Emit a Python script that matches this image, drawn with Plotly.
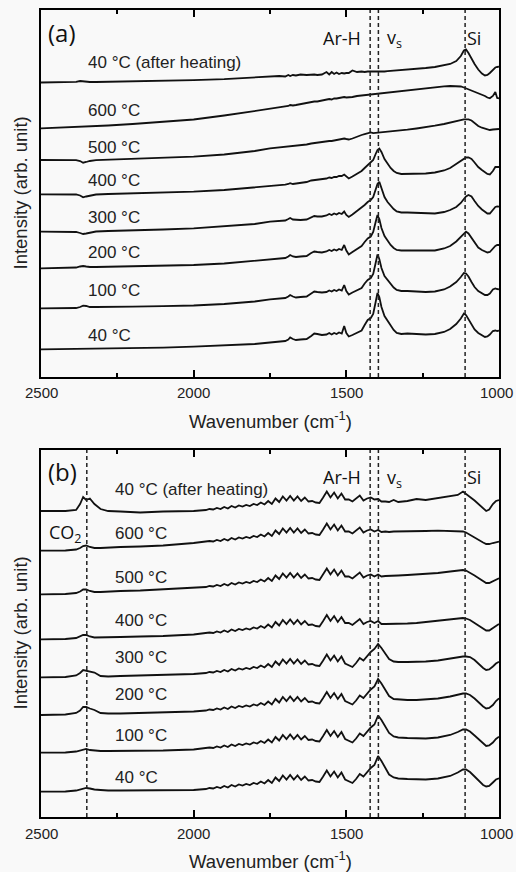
import plotly.graph_objects as go

# ---------------- Panel (a) data ----------------
wn_a = [2500, 2420, 2385, 2372, 2362, 2352, 2340, 2320, 2280, 2200, 2100, 2000, 1900, 1800, 1750,
        1720, 1700, 1690, 1684, 1675, 1665, 1650, 1630, 1615, 1605,
        1595, 1580, 1565, 1556, 1548, 1540, 1532, 1524, 1515, 1507,
        1500, 1492, 1480, 1465, 1450, 1440, 1430, 1420, 1412, 1404,
        1398, 1392, 1385, 1375, 1365, 1355, 1345, 1335, 1320, 1300,
        1270, 1240, 1210, 1180, 1160, 1140, 1125, 1115, 1108, 1100,
        1090, 1080, 1068, 1056, 1046, 1038, 1030, 1020, 1012, 1006,
        1000]

a_40 = [27.7, 28, 28, 28, 28, 28, 28, 28, 28.2, 28.7, 29.4, 30.3, 31.5, 33, 34.5,
        35.5, 36, 37.5, 39.5, 38, 37, 37.5, 38, 41, 43.5,
        43, 42, 42.5, 44, 42.5, 44, 43, 44.5, 43.5, 51,
        44, 40.5, 42, 44, 46.5, 52, 57, 59, 63, 75,
        84, 80, 70, 61, 56, 51, 47, 44, 43, 43.5,
        43, 42.5, 43, 45, 48, 53, 58.5, 63.5, 62, 58,
        52, 47.5, 44, 41.5, 40, 40.5, 42.5, 46, 46.5, 46,
        46.3]
a_100 = [68.7, 68.8, 69, 70, 71.3, 71, 70, 70, 70, 70.3, 70.8, 71.5, 73, 75.5, 77.7,
         78.5, 79, 80.5, 82, 80.5, 79.5, 80, 80.5, 83.5, 85.5,
         85, 84.5, 85, 86.5, 85.5, 87, 86, 87.5, 86.5, 92,
         86, 82.5, 84.5, 86.5, 89, 93.5, 97, 99, 103, 114,
         122.5, 118, 109, 101, 97, 93, 89.5, 87, 86, 86,
         85.5, 85, 85.5, 87.5, 90.5, 95, 100, 104, 103.5, 100.5,
         95, 90, 86, 83.5, 82, 82, 83.5, 87.5, 88.5, 88,
         87.7]
a_200 = [108.7, 109, 109.5, 110.5, 111, 110.5, 110, 110, 110.3, 110.7, 111.2, 112, 113.5, 116, 117.7,
         118.5, 119, 120.5, 122, 120.5, 120, 120.5, 121, 124, 125.5,
         125, 124.5, 125.5, 127, 126, 127.5, 126.5, 128, 127, 132,
         126.5, 122.5, 125, 128, 131, 135, 138.5, 140.5, 145, 155,
         162, 158, 149, 141, 136, 132, 129, 127, 126.5, 126.5,
         126.5, 126, 126.5, 128.5, 131, 135.5, 140, 144, 145.3, 143.5,
         139, 134, 129.5, 127, 125.5, 124.5, 125, 129, 131, 132,
         132]
a_300 = [145.3, 145.3, 145, 144, 143, 143.5, 144.5, 145.5, 146, 146.5, 147.5, 148.7, 150.5, 153, 155.3,
         156, 156.5, 158, 159, 157.5, 157, 157, 157.5, 160, 161,
         160.5, 160.5, 161.5, 163, 162, 163.5, 162.5, 164, 163, 165.5,
         162, 160, 162.5, 166, 169, 172, 175, 177, 180, 188,
         193, 195.3, 188, 180, 175, 171, 168, 165.5, 164.5, 164.5,
         164, 163.5, 163.5, 165, 167, 170, 174, 178, 180.5, 182,
         180.5, 176, 171, 167.5, 165, 163.5, 163.5, 167, 170, 170.5,
         170.3]
a_400 = [182.7, 182.7, 182.5, 181.5, 179.7, 180.5, 181.5, 182.5, 183, 183.5, 184.3, 185.3, 187, 189.3, 191,
         191.8, 192.3, 193, 193.8, 193, 193.3, 194, 195, 196.5, 197,
         197, 197.5, 198.5, 199.5, 199, 200, 200, 201, 201, 202.5,
         201, 198.5, 200.5, 203.5, 206, 209, 212, 214, 217, 223,
         227, 228.5, 225, 218, 213, 209, 206, 204, 203, 203,
         203, 203.5, 204.5, 206.5, 209, 213, 216, 218.5, 219.5, 219.7,
         218, 214.5, 210, 207, 205, 203, 202.5, 206, 210, 210,
         210]
a_500 = [217, 217, 216.8, 216, 214.3, 215, 216, 216.8, 217.3, 218, 219, 220.3, 222.5, 226, 228.7,
         229.5, 230, 230.5, 231, 230.8, 231, 231.7, 232.5, 233.5, 234,
         234, 234.5, 235.5, 236, 236, 236.5, 237, 237.5, 237.5, 238.5,
         238, 237.5, 238.5, 240.5, 242, 242.8, 243.5, 244.5, 243.8, 244,
         244.3, 244.3, 244.5, 245, 245.3, 245.7, 246, 246.3, 246.7, 247.3,
         248.5, 249.7, 251.3, 253, 254.5, 256.5, 257.3, 257.7, 257.7, 257.7,
         256.5, 254, 251, 249.3, 248.5, 248, 247, 247.5, 248, 248,
         248]
a_600 = [248.7, 249.5, 250, 250, 250.2, 250.3, 250.5, 250.8, 251.5, 253, 255, 257.5, 261.5, 266, 268.7,
         269.8, 270.5, 271, 272, 271.5, 272, 273, 274, 275, 275.5,
         275.5, 276.3, 277, 278, 277.5, 278.5, 278.5, 279, 279, 280,
         279.5, 279.5, 280, 281, 281.5, 282, 282.5, 283, 283.2, 283.5,
         283.8, 284, 284.3, 284.7, 285, 285.3, 285.6, 285.9, 286.3, 287,
         288, 289, 290, 290.7, 291, 291, 290.5, 289.5, 288.7, 287.8,
         286.5, 285.5, 284, 282.5, 281, 279.5, 278.7, 281, 285, 279,
         278.7]
a_after = [294.5, 294.7, 295.2, 296, 295.5, 295, 295, 295, 295.2, 295.5, 296, 296.8, 297.8, 299.2, 300,
           301, 300.5, 302, 301, 302, 301.5, 302.5, 302, 302.5, 302.5,
           302, 302.5, 305, 302.5, 305, 303, 304.5, 303, 304, 303.5,
           304, 304, 306.5, 305, 305.5, 305, 305.5, 305.5, 305, 305,
           305.5, 305, 305.2, 305.5, 305.8, 306, 306.2, 306.5, 306.8, 307.3,
           308, 309, 310, 311.5, 313, 316, 321, 326.5, 327.5, 324,
           318, 313, 307.5, 303.5, 301.5, 302, 304, 307.5, 309.5, 310,
           310.3]

# ---------------- Panel (b) data ----------------
wn_b = [2500, 2420, 2385, 2372, 2362, 2352, 2340, 2325, 2305, 2280, 2240, 2175, 2100, 2000,
        1960, 1948, 1936, 1924, 1912, 1900, 1888, 1876, 1864, 1852,
        1840, 1828, 1816, 1804, 1792, 1780, 1768, 1756, 1744, 1732,
        1720, 1708, 1696, 1684, 1672, 1660, 1648, 1636, 1624, 1612,
        1600, 1588, 1576, 1564, 1552, 1540, 1528, 1516, 1504, 1492,
        1480, 1468, 1456, 1444, 1432, 1420, 1408,
        1396, 1385, 1372, 1360, 1345, 1330, 1300, 1270, 1240, 1200,
        1160, 1135, 1118, 1108, 1095, 1080, 1065, 1052, 1042, 1032,
        1020, 1010, 1000]

b_after = [306, 306, 307, 313, 320, 317, 318.5, 313, 308, 306, 305.5, 304.5, 305.5, 306,
           307, 308, 307.5, 309, 308, 310, 308.5, 311, 309.5, 311.5,
           310.5, 312, 311, 313, 312, 314.5, 312.5, 316, 313, 318.5,
           315, 320.5, 316.5, 321, 316.5, 320.5, 316, 319.5, 315.5, 316,
           314.5, 314, 319.5, 325.5, 319.5, 324.5, 318.5, 323.5, 317.5, 317.5,
           315.5, 318.5, 321.5, 316.5, 318.5, 319.5, 317.5,
           318, 315.5, 315.5, 315, 317, 315, 316, 318, 317, 319,
           320.5, 322, 325.5, 323.5, 320, 316.5, 312, 308, 306, 307.5,
           313, 316, 317]
b_600 = [266.3, 266.5, 267.5, 269, 271, 271.5, 270, 269, 269, 269.5, 270, 270.5, 271.5, 274,
         275, 276, 275.5, 277, 276, 278, 276.5, 279, 277.5, 279.5,
         278.5, 280, 279, 281, 280, 282.5, 280.5, 284, 281, 286.5,
         283, 288.5, 284.5, 289, 284.5, 288.5, 284, 287.5, 283.5, 284,
         282.5, 282, 287.5, 293.5, 287.5, 292.5, 286.5, 291.5, 285.5, 285.5,
         283.5, 286.5, 289.5, 284.5, 286.5, 287.5, 285.5,
         287, 285, 285.5, 285, 285.5, 285.5, 285.5, 286, 286, 286.3,
         286, 285.5, 285.5, 284.5, 282, 279.5, 277, 274.5, 273, 273,
         274, 275, 275.3]
b_500 = [222.7, 223, 224, 225.5, 227.5, 227.5, 226, 225, 225, 225.5, 226, 226.5, 227.5, 229,
         230, 231, 230.5, 232, 231, 233, 231.5, 234, 232.5, 234.5,
         233.5, 235, 234, 236, 235, 237.5, 235.5, 239, 236, 241.5,
         238, 243.5, 239.5, 244, 239.5, 243.5, 239, 242.5, 238.5, 239,
         237.5, 237, 242.5, 248.5, 242.5, 247.5, 241.5, 246.5, 240.5, 240.5,
         238.5, 241.5, 244.5, 239.5, 241.5, 242.5, 240.5,
         242.5, 240.5, 241, 241, 241.5, 241.5, 242, 242.5, 243, 244,
         245.5, 246.5, 247, 246.5, 244.5, 241.5, 238.5, 235.5, 234, 234,
         235.5, 237.5, 238.7]
b_400 = [177.7, 178, 179, 180.5, 182, 182, 180.5, 179.5, 179.5, 180, 180, 180.5, 181, 182.5,
         183.5, 184.5, 184, 185.5, 184.5, 186.5, 185, 187.5, 186, 188,
         187, 188.5, 187.5, 189.5, 188.5, 191, 189, 192.5, 189.5, 195,
         191.5, 197, 193, 197.5, 193, 197, 192.5, 196, 192, 192.5,
         191, 190.5, 196, 202, 196, 201, 195, 200, 194, 194,
         192, 195, 198, 193, 195, 196, 194,
         196, 193, 193, 193, 193, 193, 193.5, 194, 195, 196,
         197.5, 198.5, 199, 198.5, 197, 194, 191, 188, 186.5, 186.5,
         188.5, 191, 193]
b_300 = [139.7, 140, 141.5, 144, 147, 146.5, 146, 144.5, 141, 140.5, 141, 141.5, 142, 143,
         144, 145, 144.5, 146, 145, 147, 145.5, 148, 146.5, 148.5,
         147.5, 149, 148, 150, 149, 151.5, 149.5, 153, 150, 155.5,
         152, 157.5, 153.5, 158, 153.5, 157.5, 153, 156.5, 152.5, 153,
         151.5, 151, 156.5, 162.5, 156.5, 161.5, 155.5, 160.5, 153.5, 152,
         150, 154, 159, 156.5, 161, 165, 168,
         173, 169, 163, 158, 155.5, 155, 155, 155, 155.5, 156.5,
         158.5, 160, 160.5, 160.5, 160, 157, 152.5, 149, 147, 147.5,
         150.5, 153.5, 155.3]
b_200 = [102, 102.5, 104, 106.5, 110, 110, 108.5, 107, 104, 103.5, 103.5, 104, 104.5, 105.5,
         106.5, 107.5, 107, 108.5, 107.5, 109.5, 108, 110.5, 109, 111,
         110, 111.5, 110.5, 112.5, 111.5, 114, 112, 115.5, 112.5, 118,
         114.5, 120, 116, 120.5, 116, 120, 115.5, 119, 115, 115.5,
         114, 113.5, 119, 125, 119, 124, 118, 123, 116, 114.5,
         112.5, 116.5, 121.5, 119, 123.5, 127.5, 130.5,
         138, 133.5, 127, 121, 118, 117.5, 117, 117, 117.5, 118.5,
         120.5, 122.5, 123.5, 123.5, 122, 118.5, 114, 110.5, 108.5, 109,
         112, 116, 118.7]
b_100 = [64.3, 64.5, 65.5, 66.5, 67.5, 68, 67, 66.5, 66, 66, 66, 66.5, 66.5, 67.5,
         68.5, 69.5, 69, 70.5, 69.5, 71.5, 70, 72.5, 71, 73,
         72, 73.5, 72.5, 74.5, 73.5, 76, 74, 77.5, 74.5, 80,
         76.5, 82, 78, 82.5, 78, 82, 77.5, 81, 77, 77.5,
         76, 75.5, 81, 87, 81, 86, 80, 85, 78, 76.5,
         74.5, 78.5, 83.5, 81, 85.5, 89.5, 92.5,
         101.5, 97, 90, 84, 80.5, 79.5, 79, 78.5, 78.5, 79.5,
         82, 85, 87.5, 87.5, 85.5, 81.5, 77, 73, 71, 71.5,
         74.5, 78, 80.3]
b_40 = [25.3, 25.5, 26.5, 27.5, 29, 29, 28.5, 27.5, 27, 26.5, 26.5, 26.5, 26.5, 27,
        28, 29, 28.5, 30, 29, 31, 29.5, 32, 30.5, 32.5,
        31.5, 33, 32, 34, 33, 35.5, 33.5, 37, 34, 39.5,
        36, 41.5, 37.5, 42, 37.5, 41.5, 37, 40.5, 36.5, 37,
        35.5, 35, 40.5, 46.5, 40.5, 45.5, 39.5, 44.5, 37.5, 36,
        34, 38, 43, 40.5, 45, 49, 52,
        61, 56, 48.5, 42.5, 39.5, 38.5, 38, 37.5, 37.5, 38.5,
        41, 44.5, 47.5, 47.5, 45, 40.5, 35.5, 32, 30.5, 31,
        34.5, 37.5, 38.7]

labels = ["40 °C", "100 °C", "200 °C", "300 °C", "400 °C", "500 °C", "600 °C", "40 °C (after heating)"]
series_a = [a_40, a_100, a_200, a_300, a_400, a_500, a_600, a_after]
series_b = [b_40, b_100, b_200, b_300, b_400, b_500, b_600, b_after]

major_ticks = [2500, 2000, 1500, 1000]
minor_ticks = [2250, 1750, 1250]
dashed_a = [1422, 1395, 1111]
dashed_b = [2350, 1422, 1395, 1111]

for s in series_a:
    assert len(s) == len(wn_a), len(s)
for s in series_b:
    assert len(s) == len(wn_b), len(s)

# ---------------- Figure ----------------
W, H = 516, 872
ML, MR, MT, MB = 41, 17, 10, 55
PW, PH = W - ML - MR, H - MT - MB
BG = "#f9f9f9"
LABEL_FONT = "Liberation Sans, Arial, sans-serif"
TAG_FONT = "Open Sans, Noto Sans, sans-serif"


def px(x, y):
    return dict(x=(x - ML) / PW, y=1 - (y - MT) / PH, xref="paper", yref="paper")


def py(y):
    return 1 - (y - MT) / PH


fig = go.Figure()
for ys in series_a:
    fig.add_trace(go.Scatter(x=wn_a, y=ys, mode="lines", xaxis="x", yaxis="y",
                             line=dict(color="#111111", width=1.8), hoverinfo="skip", showlegend=False))
for ys in series_b:
    fig.add_trace(go.Scatter(x=wn_b, y=ys, mode="lines", xaxis="x2", yaxis="y2",
                             line=dict(color="#111111", width=1.8), hoverinfo="skip", showlegend=False))

xax = dict(range=[2500, 1000], tickvals=major_ticks, ticks="inside", ticklen=7, tickwidth=2,
           tickcolor="black", showline=True, linewidth=2, linecolor="black", mirror="allticks",
           showgrid=False, zeroline=False, showticklabels=False, automargin=False,
           minor=dict(tickvals=minor_ticks, ticks="inside", ticklen=4, tickwidth=2, tickcolor="black",
                      showgrid=False))
yax = dict(range=[0, 367], showticklabels=False, ticks="", showline=True, linewidth=2, linecolor="black",
           mirror=True, showgrid=False, zeroline=False, automargin=False)

dom_b_top = 367 / PH
dom_a_bot = 1 - 367 / PH

fig.update_layout(
    width=W, height=H, margin=dict(l=ML, r=MR, t=MT, b=MB, autoexpand=False),
    paper_bgcolor=BG, plot_bgcolor=BG, showlegend=False, hovermode=False,
    font=dict(family=LABEL_FONT, color="#222"),
    xaxis=dict(xax, anchor="y"), yaxis=dict(yax, anchor="x", domain=[dom_a_bot, 1]),
    xaxis2=dict(xax, anchor="y2"), yaxis2=dict(yax, anchor="x2", domain=[0, dom_b_top]),
)

shapes = []
for v in dashed_a:
    shapes.append(dict(type="line", xref="x", yref="y domain", x0=v, x1=v, y0=0, y1=1,
                       line=dict(color="#222", width=1.5, dash="4px,3px")))
for v in dashed_b:
    shapes.append(dict(type="line", xref="x2", yref="y2 domain", x0=v, x1=v, y0=0, y1=1,
                       line=dict(color="#222", width=1.5, dash="4px,3px")))
fig.update_layout(shapes=shapes)

ann = []
# tick labels (placed on the axes' own data scale)
for xr, ylab in [("x", 393), ("x2", 833)]:
    for v in major_ticks:
        ann.append(dict(x=v, xref=xr, y=py(ylab), yref="paper", text=str(v), showarrow=False,
                        xanchor="center", yanchor="middle", xshift=-3 if v == 1000 else 0,
                        font=dict(family=LABEL_FONT, size=15, color="#222")))

# curve labels
ya = [335, 290.5, 253, 218, 180.5, 147, 110.5, 63]
yb = [777.5, 735.5, 694.5, 657.5, 620, 577, 533.5, 489]
for t, y in zip(labels, ya):
    ann.append(dict(px(85.5, y), text=t, showarrow=False, xanchor="left", yanchor="middle",
                    font=dict(family=LABEL_FONT, size=17, color="#222")))
for t, y in zip(labels, yb):
    ann.append(dict(px(112.5, y), text=t, showarrow=False, xanchor="left", yanchor="middle",
                    font=dict(family=LABEL_FONT, size=17, color="#222")))

tagf = dict(family=TAG_FONT, size=18, color="#111")
for (y0, tag) in [(0, "(a)"), (440, "(b)")]:
    ann.append(dict(px(46, 32 + y0), text=tag, showarrow=False, xanchor="left", yanchor="middle",
                    font=dict(family=TAG_FONT, size=24, color="#111")))
    ann.append(dict(px(321, 37.5 + y0), text="Ar-H", showarrow=False, xanchor="left", yanchor="middle", font=tagf))
    ann.append(dict(px(385, 38.5 + y0), text="v<sub>s</sub>", showarrow=False, xanchor="left", yanchor="middle", font=tagf))
    ann.append(dict(px(465, 37.5 + y0), text="Si", showarrow=False, xanchor="left", yanchor="middle", font=tagf))
ann.append(dict(px(47, 533), text="CO<sub>2</sub>", showarrow=False, xanchor="left", yanchor="middle", font=tagf))

for yc in [420, 860]:
    ann.append(dict(px(270, yc), text="Wavenumber (cm<sup>-1</sup>)", showarrow=False, xanchor="center",
                    yanchor="middle", font=dict(family=LABEL_FONT, size=18.5, color="#222")))
for yc in [193.5, 633.5]:
    ann.append(dict(px(20, yc), text="Intensity (arb. unit)", showarrow=False, xanchor="center",
                    yanchor="middle", textangle=-90, font=dict(family=LABEL_FONT, size=18.5, color="#222")))
fig.update_layout(annotations=ann)

# remove the browser's default 8px page margin so the figure sits at the window's corner
fig.write_html("out.html", config={"displayModeBar": False},
               post_script="document.body.style.margin='0px';document.body.style.padding='0px';")
